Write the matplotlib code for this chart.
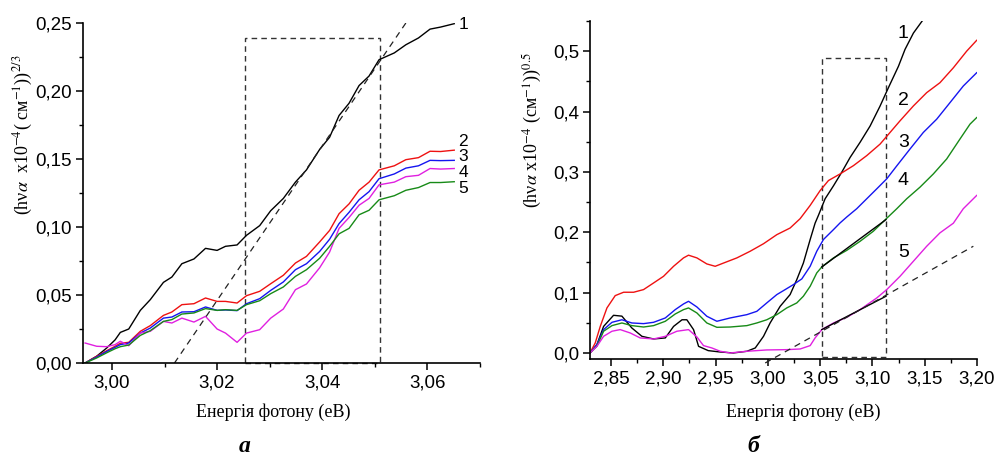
import matplotlib
matplotlib.use("Agg")
import matplotlib.pyplot as plt
from matplotlib.ticker import MultipleLocator, FuncFormatter
from matplotlib.patches import Rectangle

plt.rcParams['font.family'] = ['Liberation Sans', 'DejaVu Sans']
plt.rcParams['mathtext.fontset'] = 'stix'

# ---------------- Panel a ----------------
xa = [2.9949, 2.9971, 2.9990, 3.0006, 3.0016, 3.0032, 3.0054, 3.0073, 3.0098, 3.0114,
      3.0133, 3.0156, 3.0178, 3.0200, 3.0216, 3.0238, 3.0256, 3.0281, 3.0302, 3.0326,
      3.0349, 3.0370, 3.0395, 3.0414, 3.0432, 3.0451, 3.0470, 3.0489, 3.0508, 3.0537,
      3.0559, 3.0583, 3.0605, 3.0625, 3.0651]
a1 = [0.0, 0.005, 0.011, 0.017, 0.0225, 0.025, 0.0387, 0.0466, 0.0593, 0.0632,
      0.073, 0.0765, 0.0843, 0.0828, 0.0858, 0.0868, 0.0939, 0.101, 0.112, 0.121,
      0.133, 0.142, 0.157, 0.166, 0.182, 0.191, 0.204, 0.211, 0.223, 0.228,
      0.234, 0.239, 0.2455, 0.247, 0.2495]
a2 = [0.0, 0.0049, 0.009, 0.0123, 0.0145, 0.0152, 0.0233, 0.0275, 0.035, 0.0375,
      0.0429, 0.0436, 0.0478, 0.0453, 0.0453, 0.0441, 0.0495, 0.0527, 0.0583, 0.0645,
      0.0735, 0.0784, 0.089, 0.0975, 0.1098, 0.117, 0.127, 0.133, 0.142, 0.145,
      0.1495, 0.151, 0.1557, 0.1555, 0.1565]
a3 = [0.0, 0.0044, 0.0085, 0.0115, 0.0135, 0.0147, 0.022, 0.0257, 0.033, 0.0338,
      0.0375, 0.0377, 0.0412, 0.0387, 0.039, 0.0385, 0.0436, 0.0473, 0.0534, 0.0596,
      0.0686, 0.073, 0.082, 0.091, 0.1025, 0.1108, 0.12, 0.126, 0.1355, 0.139,
      0.1433, 0.145, 0.149, 0.1488, 0.149]
a4 = [0.0147, 0.0123, 0.012, 0.0135, 0.016, 0.0127, 0.022, 0.0233, 0.0306, 0.0294,
      0.033, 0.0301, 0.0343, 0.025, 0.022, 0.0152, 0.022, 0.0245, 0.033, 0.0397,
      0.0539, 0.0581, 0.070, 0.0816, 0.099, 0.107, 0.116, 0.121, 0.131, 0.133,
      0.137, 0.138, 0.143, 0.1426, 0.143]
a5 = [0.0, 0.0037, 0.0075, 0.0105, 0.012, 0.0132, 0.0203, 0.0238, 0.0306, 0.0319,
      0.036, 0.0368, 0.04, 0.0387, 0.0392, 0.0387, 0.0429, 0.0458, 0.051, 0.0559,
      0.0637, 0.0686, 0.077, 0.0858, 0.095, 0.099, 0.109, 0.1123, 0.12, 0.123,
      0.127, 0.129, 0.1327, 0.1327, 0.1333]
fit_a_x = [3.0119, 3.0559]
fit_a_y = [0.0, 0.25]
box_a = (3.0254, 3.051, 0.0, 0.239)
lab_a_x = 3.0668
lab_a_y = [0.249, 0.1625, 0.1515, 0.1404, 0.1285]

# ---------------- Panel б ----------------
b1x = [2.83, 2.8366, 2.843, 2.8525, 2.8605, 2.870, 2.8796, 2.8908, 2.902, 2.9099,
       2.918, 2.9226, 2.929, 2.9338, 2.943, 2.954, 2.967, 2.980, 2.988, 2.9959,
       3.0022, 3.0118, 3.0213, 3.0277, 3.034, 3.0405, 3.0452, 3.0484, 3.0548, 3.0628,
       3.0707, 3.0787, 3.0882, 3.0978, 3.1073, 3.1153, 3.1249, 3.1312, 3.1392, 3.148]
b1y = [0.0, 0.0138, 0.044, 0.0624, 0.061, 0.0414, 0.0276, 0.0232, 0.0249, 0.044,
       0.055, 0.055, 0.0387, 0.011, 0.0039, 0.0017, 0.0, 0.0028, 0.0083, 0.0276,
       0.0497, 0.0773, 0.0967, 0.1215, 0.149, 0.188, 0.215, 0.228, 0.2555, 0.277,
       0.2995, 0.324, 0.349, 0.376, 0.409, 0.4395, 0.475, 0.503, 0.530, 0.551]
b2x = [2.83, 2.835, 2.8398, 2.8462, 2.8541, 2.8621, 2.8717, 2.8812, 2.8908, 2.9003,
       2.9099, 2.9194, 2.9242, 2.9322, 2.9417, 2.9497, 2.9577, 2.9704, 2.9831, 2.9959,
       3.0086, 3.0213, 3.0309, 3.0405, 3.05, 3.058, 3.0692, 3.0819, 3.0946, 3.1073,
       3.1169, 3.1264, 3.1392, 3.1519, 3.1646, 3.1774, 3.1901, 3.1997]
b2y = [0.0, 0.0166, 0.044, 0.0746, 0.095, 0.1006, 0.1006, 0.105, 0.116, 0.127,
       0.1436, 0.1575, 0.162, 0.1575, 0.1475, 0.1436, 0.149, 0.1575, 0.1685, 0.181,
       0.196, 0.207, 0.2225, 0.2445, 0.269, 0.2857, 0.2967, 0.3104, 0.327, 0.346,
       0.3654, 0.3846, 0.4093, 0.4313, 0.4478, 0.4725, 0.5, 0.518]
b3x = [2.83, 2.8366, 2.843, 2.851, 2.8605, 2.870, 2.8812, 2.8908, 2.902, 2.9115,
       2.9194, 2.9242, 2.9322, 2.9417, 2.9513, 2.964, 2.980, 2.9895, 2.999, 3.0086,
       3.0166, 3.0245, 3.0325, 3.0405, 3.0468, 3.0532, 3.0628, 3.0691, 3.0755, 3.085,
       3.0946, 3.1042, 3.1137, 3.1233, 3.136, 3.1487, 3.1615, 3.1742, 3.1869, 3.1997]
b3y = [0.0, 0.0138, 0.0387, 0.0508, 0.055, 0.0497, 0.0486, 0.0508, 0.058, 0.0718,
       0.0812, 0.0856, 0.0762, 0.0608, 0.0525, 0.058, 0.0635, 0.069, 0.0829, 0.0967,
       0.105, 0.1133, 0.1227, 0.1436, 0.1685, 0.188, 0.2044, 0.2155, 0.2253, 0.239,
       0.2555, 0.272, 0.2885, 0.310, 0.338, 0.3654, 0.3874, 0.4148, 0.4423, 0.4643]
b4x = [2.83, 2.8366, 2.843, 2.851, 2.8605, 2.870, 2.8812, 2.8908, 2.902, 2.9115,
       2.9194, 2.9242, 2.9322, 2.9417, 2.9513, 2.964, 2.980, 2.9895, 2.999, 3.0086,
       3.0181, 3.0277, 3.034, 3.0405, 3.0468, 3.0516, 3.0628, 3.0755, 3.0882, 3.1009,
       3.113, 3.1233, 3.1328, 3.1455, 3.1583, 3.171, 3.1837, 3.1933, 3.1997]
b4y = [0.0, 0.011, 0.036, 0.0453, 0.0497, 0.0453, 0.043, 0.0453, 0.0525, 0.0646,
       0.0718, 0.0746, 0.0663, 0.0497, 0.0425, 0.043, 0.0453, 0.0497, 0.055, 0.0635,
       0.0746, 0.0829, 0.094, 0.1105, 0.1326, 0.1425, 0.1575, 0.170, 0.185, 0.2017,
       0.222, 0.239, 0.2555, 0.2747, 0.2967, 0.3214, 0.3544, 0.3791, 0.390]
b5x = [2.83, 2.8366, 2.843, 2.851, 2.8589, 2.8685, 2.878, 2.8908, 2.902, 2.9131,
       2.9242, 2.9322, 2.9385, 2.9465, 2.9545, 2.964, 2.980, 2.999, 3.0181, 3.0309,
       3.0405, 3.0452, 3.0516, 3.0628, 3.0755, 3.0882, 3.1042, 3.1137, 3.1264, 3.1392,
       3.1519, 3.1646, 3.1774, 3.1869, 3.1997]
b5y = [0.0, 0.011, 0.0276, 0.036, 0.0387, 0.0331, 0.0249, 0.0232, 0.0276, 0.036,
       0.0387, 0.0265, 0.0122, 0.0083, 0.0028, 0.0, 0.0028, 0.005, 0.0055, 0.0066,
       0.0122, 0.0249, 0.0387, 0.0497, 0.0591, 0.0718, 0.0912, 0.105, 0.127, 0.152,
       0.1768, 0.199, 0.215, 0.239, 0.261]
fit_b_x = [2.9975, 3.1965]
fit_b_y = [-0.0166, 0.1768]
seg4_x = [3.0516, 3.113]
seg4_y = [0.1425, 0.221]
seg5_x = [3.0516, 3.113]
seg5_y = [0.0387, 0.094]
box_b = (3.0522, 3.113, -0.0066, 0.489)
lab_b_x = 3.1296
lab_b_y = [0.530, 0.4176, 0.348, 0.2857, 0.1657]

labels = ['1', '2', '3', '4', '5']
colors = ['#000000', '#ee1111', '#1515f0', '#e020e0', '#178a17']
colors_b = ['#000000', '#ee1111', '#1515f0', '#178a17', '#e020e0']

fig = plt.figure(figsize=(9.94, 4.57), dpi=100)
fig.patch.set_facecolor('white')
axa = fig.add_axes([83/994, 1-363/457, (480-83)/994, (363-23)/457])
axb = fig.add_axes([590/994, 1-359/457, (977-590)/994, (359-21)/457])


def style(ax):
    for s in ['top', 'right']:
        ax.spines[s].set_visible(False)
    for s in ['left', 'bottom']:
        ax.spines[s].set_linewidth(1.2)
    ax.tick_params(which='major', direction='out', length=5, width=1.1,
                   labelsize=13.5, pad=3)
    ax.tick_params(which='minor', direction='out', length=3, width=1.0)


def comma(fmt):
    return FuncFormatter(lambda v, p: fmt.format(v).replace('.', ','))


# panel a
for ys, c in zip([a1, a2, a3, a4, a5], colors):
    axa.plot(xa, ys, color=c, lw=1.0)
axa.plot(fit_a_x, fit_a_y, color='#222222', lw=0.9, ls=(0, (5, 4)))
axa.add_patch(Rectangle((box_a[0], box_a[2]), box_a[1]-box_a[0], box_a[3]-box_a[2],
                        fill=False, ls=(0, (4, 3)), lw=1.0, ec='#333333', clip_on=False))
for lab, y in zip(labels, lab_a_y):
    axa.text(lab_a_x, y, lab, fontsize=12.5, ha='center', va='center', clip_on=False)
axa.set_xlim(2.9945, 3.070)
axa.set_ylim(0.0, 0.25)
axa.xaxis.set_major_locator(MultipleLocator(0.02))
axa.xaxis.set_minor_locator(MultipleLocator(0.01))
axa.yaxis.set_major_locator(MultipleLocator(0.05))
axa.yaxis.set_minor_locator(MultipleLocator(0.025))
axa.xaxis.set_major_formatter(comma('{:.2f}'))
axa.yaxis.set_major_formatter(comma('{:.2f}'))
style(axa)

# panel б
for xs, ys, c in zip([b1x, b2x, b3x, b4x, b5x], [b1y, b2y, b3y, b4y, b5y], colors_b):
    axb.plot(xs, ys, color=c, lw=1.0)
axb.plot(seg4_x, seg4_y, color='black', lw=1.0)
axb.plot(seg5_x, seg5_y, color='black', lw=1.0)
axb.plot(fit_b_x, fit_b_y, color='#222222', lw=0.9, ls=(0, (5, 4)), clip_on=False)
axb.add_patch(Rectangle((box_b[0], box_b[2]), box_b[1]-box_b[0], box_b[3]-box_b[2],
                        fill=False, ls=(0, (4, 3)), lw=1.0, ec='#333333', clip_on=False))
for lab, y in zip(labels, lab_b_y):
    axb.text(lab_b_x, y, lab, fontsize=14, ha='center', va='center', clip_on=False)
axb.set_xlim(2.83, 3.20)
axb.set_ylim(-0.01, 0.55)
axb.xaxis.set_major_locator(MultipleLocator(0.05))
axb.xaxis.set_minor_locator(MultipleLocator(0.025))
axb.yaxis.set_major_locator(MultipleLocator(0.1))
axb.yaxis.set_minor_locator(MultipleLocator(0.05))
axb.xaxis.set_major_formatter(comma('{:.2f}'))
axb.yaxis.set_major_formatter(comma('{:.1f}'))
style(axb)

serif = ['Liberation Serif', 'DejaVu Serif']
fig.text(273/994, 1-412/457, 'Енергія фотону (еВ)', family=serif, fontsize=13,
         ha='center', va='center')
fig.text(803/994, 1-412/457, 'Енергія фотону (еВ)', family=serif, fontsize=13,
         ha='center', va='center')
fig.text(23/994, 1-135/457, r'(hν$\alpha$  x10$^{-4}$( см$^{-1}$))$^{2/3}$',
         family=serif, fontsize=13, rotation=90, ha='center', va='center')
fig.text(532/994, 1-130/457, r'(hν$\alpha$ x10$^{-4}$ (см$^{-1}$))$^{0.5}$',
         family=serif, fontsize=13, rotation=90, ha='center', va='center')
fig.text(245/994, 1-446/457, 'а', family=serif, fontsize=17, fontweight='bold',
         style='italic', ha='center', va='center')
fig.text(753/994, 1-446/457, 'б', family=serif, fontsize=17, fontweight='bold',
         style='italic', ha='center', va='center')

fig.savefig('out.png', dpi=100, facecolor='white')
